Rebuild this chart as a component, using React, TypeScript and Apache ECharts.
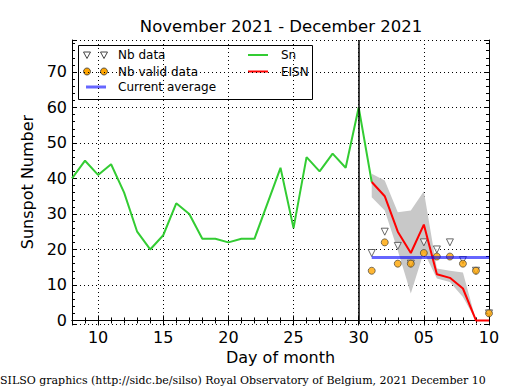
import React, { useEffect, useRef } from 'react';
import * as echarts from 'echarts';

// Days counted from 1 November 2021 (31 = 1 December)
const snDays = [8, 9, 10, 11, 12, 13, 14, 15, 16, 17, 18, 19, 20, 21, 22, 23, 24, 25, 26, 27, 28, 29, 30, 31];
const snValues = [40, 45, 41, 44, 36, 25, 20, 24, 33, 30, 23, 23, 22, 23, 23, 33, 43, 26, 46, 42, 47, 43, 60, 39];

const eisnDays = [31, 32, 33, 34, 35, 36, 37, 38, 39, 40];
const eisnValues = [39, 35, 25, 19, 27, 13, 12, 9, 0, 0];
const eisnUpper = [41.3, 39.4, 30.5, 31, 36.4, 14.6, 14, 13.5, 0, 0];
const eisnLower = [34.7, 31, 19.7, 7.6, 19.3, 11.8, 10.8, 6.6, 0, 0];

const nbData = [19, 25, 21, 16, 22, 20, 22, 17, 14, 2];
const nbValidData = [14, 22, 16, 16, 19, 18, 18, 16, 14, 2];
const currentAverage = 17.7;

const monthBoundaryDay = 30;
const titleText = 'November 2021 - December 2021';
const footerText = 'SILSO graphics (http://sidc.be/silso) Royal Observatory of Belgium, 2021 December 10';

const FONT = 'DejaVu Sans';

const xLabel = (v: number) => {
  if (v % 5 !== 0) return '';
  if (v > 31) return String(v - 30).padStart(2, '0');
  return String(v);
};
const yLabel = (v: number) => (v >= 0 && v % 10 === 0 ? String(v) : '');

export default function App() {
  const ref = useRef<HTMLDivElement>(null);
  useEffect(() => {
    if (!ref.current) return;
    const chart = echarts.init(ref.current, null, { renderer: 'svg' });
    const dotted = { show: true, lineStyle: { color: '#000', width: 1, type: [1, 3] as any } };
    const baseX = {
      type: 'value' as const,
      min: 8,
      max: 40,
      splitNumber: 6,
      axisLine: { show: true, lineStyle: { color: '#000', width: 1 } },
      axisTick: { show: true, inside: true, length: 5, lineStyle: { color: '#000' } },
      minorTick: { show: true, splitNumber: 5, length: 3, lineStyle: { color: '#000' } },
      splitLine: { show: false },
    };
    const baseY = {
      type: 'value' as const,
      min: -1,
      max: 79,
      splitNumber: 8,
      axisLine: { show: true, lineStyle: { color: '#000', width: 1 } },
      axisTick: { show: true, inside: true, length: 5, lineStyle: { color: '#000' } },
      minorTick: { show: true, splitNumber: 5, length: 3, lineStyle: { color: '#000' } },
      splitLine: { show: false },
    };
    const zip = (xs: number[], ys: number[]) => xs.map((x, i) => [x, ys[i]]);
    const option: any = {
      animation: false,
      grid: { left: 72, right: 26, top: 40, bottom: 66, containLabel: false },
      xAxis: [
        {
          ...baseX,
          position: 'bottom',
          splitLine: dotted,
          axisLabel: {
            formatter: xLabel,
            color: '#000',
            fontFamily: FONT,
            fontSize: 16,
            margin: 5,
            showMinLabel: false,
          },
          name: 'Day of month',
          nameLocation: 'middle',
          nameGap: 23,
          nameTextStyle: { color: '#000', fontFamily: FONT, fontSize: 16 },
        },
        { ...baseX, position: 'top', axisLabel: { show: false } },
      ],
      yAxis: [
        {
          ...baseY,
          position: 'left',
          splitLine: dotted,
          axisLabel: {
            formatter: yLabel,
            color: '#000',
            fontFamily: FONT,
            fontSize: 16,
            margin: 5,
            showMinLabel: false,
            showMaxLabel: false,
          },
          name: 'Sunspot Number',
          nameLocation: 'middle',
          nameGap: 33,
          nameTextStyle: { color: '#000', fontFamily: FONT, fontSize: 16 },
        },
        { ...baseY, position: 'right', axisLabel: { show: false } },
      ],
      series: [
        {
          type: 'custom',
          silent: true,
          data: eisnDays.map((d, i) => [d, eisnLower[i], eisnUpper[i]]),
          encode: { x: 0, y: [1, 2] },
          renderItem: (params: any, api: any) => {
            if (params.dataIndex !== 0) return null;
            const upper = eisnDays.map((d, i) => api.coord([d, eisnUpper[i]]));
            const lower = eisnDays.map((d, i) => api.coord([d, eisnLower[i]])).reverse();
            return {
              type: 'polygon',
              shape: { points: upper.concat(lower) },
              style: { fill: '#c8c8c8', stroke: 'none' },
            };
          },
        },
        {
          type: 'line',
          data: zip(snDays, snValues),
          symbol: 'none',
          lineStyle: { color: '#33cc33', width: 2 },
          markLine: {
            silent: true,
            symbol: 'none',
            label: { show: false },
            lineStyle: { color: '#000', width: 1.5, type: 'solid' },
            data: [{ xAxis: monthBoundaryDay }],
          },
        },
        {
          type: 'line',
          data: zip(eisnDays, eisnValues),
          symbol: 'none',
          lineStyle: { color: '#ff0000', width: 2 },
        },
        {
          type: 'scatter',
          data: zip(eisnDays, nbData),
          symbol: 'triangle',
          symbolRotate: 180,
          symbolSize: 7,
          itemStyle: { color: '#ffffff', borderColor: '#444', borderWidth: 1 },
        },
        {
          type: 'scatter',
          data: zip(eisnDays, nbValidData),
          symbol: 'circle',
          symbolSize: 7,
          itemStyle: { color: '#ffa500', borderColor: '#333', borderWidth: 0.8 },
        },
        {
          type: 'line',
          data: [
            [eisnDays[0], currentAverage],
            [eisnDays[eisnDays.length - 1], currentAverage],
          ],
          symbol: 'none',
          lineStyle: { color: 'rgba(0,0,255,0.6)', width: 3 },
        },
      ],
      graphic: [
        {
          type: 'text',
          x: 281,
          y: 26,
          z: 100,
          style: {
            text: titleText,
            fill: '#000',
            font: `16.5px "${FONT}"`,
            textAlign: 'center',
            textVerticalAlign: 'middle',
          },
        },
        {
          type: 'text',
          x: 0,
          y: 380,
          z: 100,
          style: {
            text: footerText,
            fill: '#000',
            font: '11px "DejaVu Serif"',
            textAlign: 'left',
            textVerticalAlign: 'middle',
          },
        },
        {
          type: 'group',
          z: 100,
          children: [
            {
              type: 'rect',
              shape: { x: 78.5, y: 45.5, width: 234, height: 54 },
              style: { fill: '#fff', stroke: '#000', lineWidth: 1 },
            },
            ...[87, 104].map((cx) => ({
              type: 'polygon',
              shape: { points: [[cx - 3.5, 52], [cx + 3.5, 52], [cx, 58.5]] },
              style: { fill: '#fff', stroke: '#444', lineWidth: 1 },
            })),
            ...[87, 104].map((cx) => ({
              type: 'circle',
              shape: { cx, cy: 71.5, r: 3.5 },
              style: { fill: '#ffa500', stroke: '#333', lineWidth: 0.8 },
            })),
            {
              type: 'line',
              shape: { x1: 86, y1: 87, x2: 106, y2: 87 },
              style: { stroke: 'rgba(0,0,255,0.6)', lineWidth: 3 },
            },
            {
              type: 'line',
              shape: { x1: 248, y1: 55, x2: 268, y2: 55 },
              style: { stroke: '#33cc33', lineWidth: 2 },
            },
            {
              type: 'line',
              shape: { x1: 248, y1: 71.5, x2: 268, y2: 71.5 },
              style: { stroke: '#ff0000', lineWidth: 2 },
            },
            ...[
              ['Nb data', 118, 55],
              ['Nb valid data', 118, 71.5],
              ['Current average', 118, 87],
              ['Sn', 281, 55],
              ['EISN', 281, 71.5],
            ].map(([t, x, y]) => ({
              type: 'text',
              x: x as number,
              y: y as number,
              style: {
                text: t as string,
                fill: '#000',
                font: `12px "${FONT}"`,
                textAlign: 'left',
                textVerticalAlign: 'middle',
              },
            })),
          ],
        },
      ],
    };
    chart.setOption(option);
    return () => chart.dispose();
  }, []);
  return (
    <div
      ref={ref}
      style={{ position: 'absolute', left: 0, top: 0, width: 515, height: 390, background: '#fff' }}
    />
  );
}
